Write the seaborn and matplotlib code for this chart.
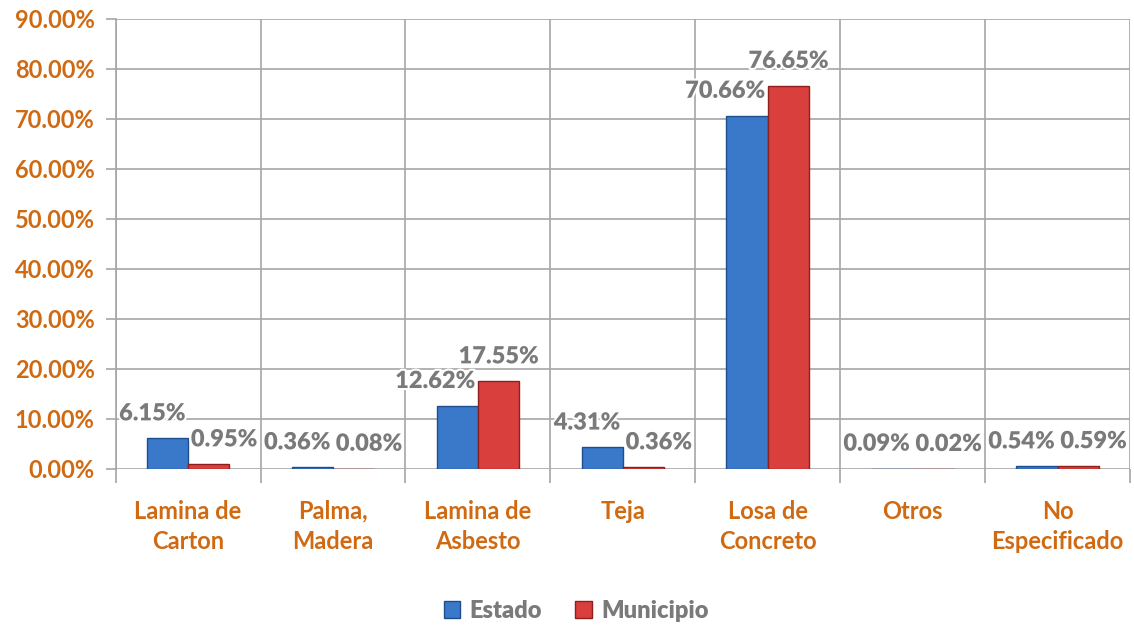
#!/usr/bin/env python3
"""Material de techos: Estado vs Municipio (porcentaje de viviendas)."""

import matplotlib.pyplot as plt
import matplotlib.patheffects as pe
import matplotlib.ticker as ticker
import numpy as np
import pandas as pd
import seaborn as sns

CATEGORIES = [
    "Lamina de\nCarton",
    "Palma,\nMadera",
    "Lamina de\nAsbesto",
    "Teja",
    "Losa de\nConcreto",
    "Otros",
    "No\nEspecificado",
]
ESTADO = [6.15, 0.36, 12.62, 4.31, 70.66, 0.09, 0.54]
MUNICIPIO = [0.95, 0.08, 17.55, 0.36, 76.65, 0.02, 0.59]
SERIES = ["Estado", "Municipio"]

COLORS = {"Estado": "#3A78C9", "Municipio": "#D9403D"}
EDGES = {"Estado": "#1F4E8C", "Municipio": "#8E1F1D"}
ORANGE = "#D06A12"
LABEL_GRAY = "#7A7A7A"
GRID = "#A6A6A6"

sns.set_theme(style="white")
plt.rcParams["font.family"] = ["Lato", "DejaVu Sans"]

df = pd.DataFrame({
    "categoria": CATEGORIES * 2,
    "serie": [SERIES[0]] * len(CATEGORIES) + [SERIES[1]] * len(CATEGORIES),
    "valor": ESTADO + MUNICIPIO,
})

fig = plt.figure(figsize=(11.34, 6.25), dpi=100)
ax = fig.add_axes([0.102, 0.2496, 0.8945, 0.72])

sns.barplot(
    data=df, x="categoria", y="valor", hue="serie",
    palette=COLORS, width=0.57, saturation=1, ax=ax, legend=False,
)
for cont, name in zip(ax.containers, SERIES):
    for bar in cont:
        bar.set_edgecolor(EDGES[name])
        bar.set_linewidth(1.0)

outline = [pe.withStroke(linewidth=3, foreground="white")]
label_kw = dict(textcoords="offset points", va="bottom", fontsize=17,
                fontweight="heavy", color=LABEL_GRAY, path_effects=outline)

# Data labels, spread like the original (estado left, municipio right);
# municipio label is centred only when it sits clearly above the estado one
for i, (e_bar, m_bar) in enumerate(zip(ax.containers[0], ax.containers[1])):
    e, m = ESTADO[i], MUNICIPIO[i]
    ax.annotate(
        f"{e:.2f}%", xy=(e_bar.get_x() + e_bar.get_width(), e),
        xytext=(-2, 10), ha="right", **label_kw,
    )
    if m > e + 3:
        mx, ha, dx = m_bar.get_x() + m_bar.get_width() / 2, "center", 0
    else:
        mx, ha, dx = m_bar.get_x(), "left", 2
    ax.annotate(f"{m:.2f}%", xy=(mx, m), xytext=(dx, 10), ha=ha, **label_kw)

ax.set_ylim(0, 90)
ax.set_xlim(-0.5, len(CATEGORIES) - 0.5)
ax.yaxis.set_major_locator(ticker.MultipleLocator(10))
ax.yaxis.set_major_formatter(ticker.FuncFormatter(lambda v, _: f"{v:.2f}%"))
ax.xaxis.set_minor_locator(ticker.FixedLocator(np.arange(-0.5, len(CATEGORIES), 1.0)))

ax.grid(True, axis="y", which="major", color=GRID, linewidth=1.2)
ax.grid(True, axis="x", which="minor", color=GRID, linewidth=1.2)
ax.grid(False, axis="x", which="major")
ax.set_axisbelow(True)

for side in ["top", "right", "bottom"]:
    ax.spines[side].set_visible(False)
ax.spines["left"].set_color(GRID)
ax.spines["left"].set_linewidth(1.2)

ax.tick_params(axis="y", which="major", length=7, width=1.2, color=GRID,
               direction="out", pad=8, left=True)
ax.tick_params(axis="x", which="major", length=0, pad=22)
ax.tick_params(axis="x", which="minor", length=10, width=1.2, color=GRID,
               direction="out", bottom=True)

for lbl in ax.get_yticklabels():
    lbl.set_fontsize(17)
    lbl.set_fontweight("bold")
    lbl.set_color(ORANGE)
for lbl in ax.get_xticklabels():
    lbl.set_fontsize(17)
    lbl.set_fontweight("bold")
    lbl.set_color(ORANGE)
    lbl.set_linespacing(1.4)

ax.set_xlabel("")
ax.set_ylabel("")

handles = [
    plt.Rectangle((0, 0), 1, 1, facecolor=COLORS[s], edgecolor=EDGES[s])
    for s in SERIES
]
leg = fig.legend(
    handles, SERIES, loc="center", bbox_to_anchor=(0.508, 0.023), ncol=2,
    frameon=False, handlelength=0.7, handleheight=0.7, handletextpad=0.4,
    columnspacing=1.4, prop={"size": 17, "weight": "heavy"},
)
for txt in leg.get_texts():
    txt.set_color(LABEL_GRAY)

fig.savefig("out.png", dpi=100)
